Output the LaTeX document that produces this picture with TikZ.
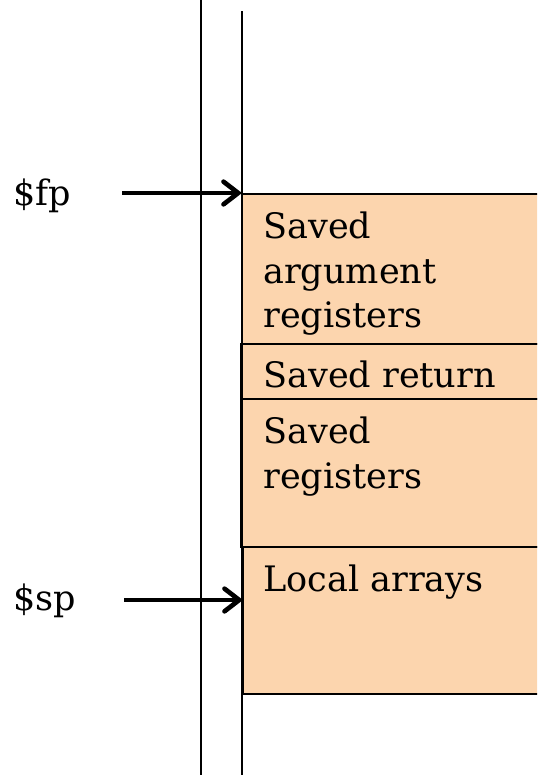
\documentclass[tikz,border=0pt]{standalone}
\usepackage{fontspec}
\setmainfont{DejaVu Serif}
\usetikzlibrary{arrows.meta}
\definecolor{peach}{HTML}{FCD5AE}
\begin{document}
\begin{tikzpicture}[x=0.75pt,y=-0.75pt,
  box/.style={draw=black,line width=2pt,fill=peach,anchor=north west,
    minimum width=270pt,inner sep=0pt,outer sep=0pt},
  txt/.style={anchor=base west,inner sep=0pt,font=\fontsize{26.3pt}{33pt}\selectfont},
  stack/.style={line width=2.2pt},
  ptr/.style={line width=3.5pt,-{Straight Barb[length=11pt,width=17pt,line cap=round]}}]
\useasboundingbox (0,0) rectangle (537,775);
\clip (0,0) rectangle (537,775);
% boxes
\node[box,minimum height=112.5pt] (b1) at (242,194) {};
\node[box,minimum height=41.25pt] (b2) at (241,344) {};
\node[box,minimum height=111pt] (b3) at (241,399) {};
\node[box,minimum height=110.25pt] (b4) at (243,547) {};
% texts
\node[txt] (t1a) at (263,238) {Saved};
\node[txt] (t1b) at (263,283) {argument};
\node[txt] (t1c) at (263,327) {registers};
\node[txt] (t2) at (263,387) {Saved return};
\node[txt] (t3a) at (263,443) {Saved};
\node[txt] (t3b) at (263,488) {registers};
\node[txt] (t4) at (263,591) {Local arrays};
% stack lines
\coordinate (l1t) at (201,0);
\coordinate (l1b) at (201,775);
\coordinate (l2t) at (242,11);
\coordinate (l2b) at (242,775);
\draw[stack] (l1t) -- (l1b);
\draw[stack] (l2t) -- (l2b);
% pointers
\node[txt] (fp) at (13,205) {\$fp};
\node[txt] (sp) at (13,610) {\$sp};
\coordinate (fps) at (122,193);
\coordinate (sps) at (124,600);
\draw[ptr] (fps) -- (fps -| b1.west);
\draw[ptr] (sps) -- (sps -| b4.west);
\end{tikzpicture}
\end{document}
